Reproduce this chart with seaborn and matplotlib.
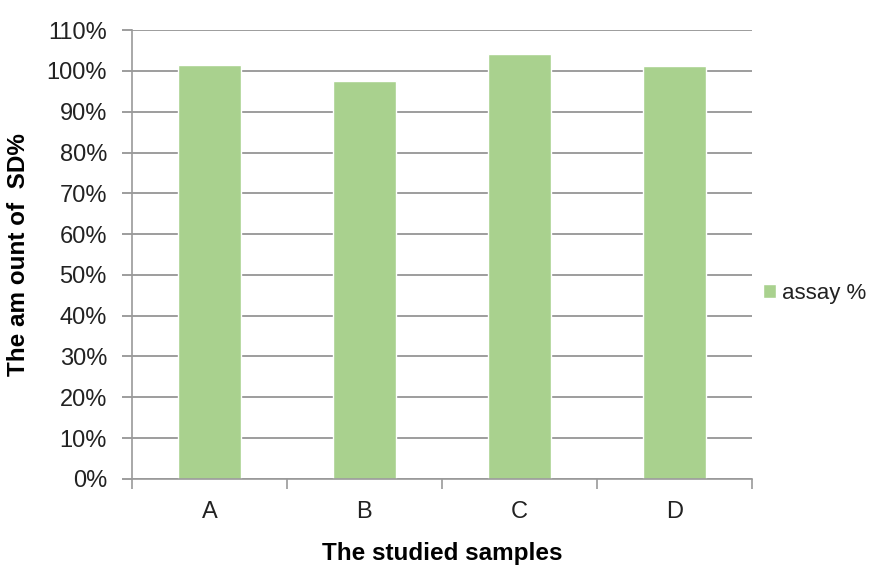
import matplotlib
matplotlib.use("Agg")
import matplotlib.pyplot as plt
import seaborn as sns
import pandas as pd
import numpy as np
from matplotlib.ticker import PercentFormatter, FixedLocator

# Assay results per sample (percent)
samples = ["A", "B", "C", "D"]
assay_pct = [101.5, 97.5, 104.1, 101.2]
series_name = "assay %"

df = pd.DataFrame({"sample": samples, "value": assay_pct, "series": series_name})

sns.set_theme(style="white")
plt.rcParams["font.family"] = ["Liberation Sans", "DejaVu Sans"]

fig = plt.figure(figsize=(8.74, 5.70), dpi=100)
ax = fig.add_axes([0.151, 0.160, 0.709, 0.787])

bar_green = "#a9d18e"
sns.barplot(data=df, x="sample", y="value", hue="series", palette=[bar_green],
            width=0.405, ax=ax, saturation=1, legend=True)

ax.set_ylim(0, 110)
ax.set_xlim(-0.5, 3.5)
ax.set_yticks(np.arange(0, 111, 10))
ax.yaxis.set_major_formatter(PercentFormatter(decimals=0))
ax.yaxis.grid(True, color="#8c8c8c", linewidth=1.2)
ax.set_axisbelow(True)

for side in ("top", "right"):
    ax.spines[side].set_visible(False)
for side in ("left", "bottom"):
    ax.spines[side].set_color("#9a9a9a")
    ax.spines[side].set_linewidth(1.2)

ax.tick_params(axis="y", which="major", left=True, length=7, width=1.2,
               color="#8c8c8c", labelsize=17, labelcolor="#222222", pad=11)
ax.tick_params(axis="x", which="major", bottom=False, labelsize=17,
               labelcolor="#222222", pad=10)
ax.xaxis.set_minor_locator(FixedLocator([-0.5, 0.5, 1.5, 2.5, 3.5]))
ax.tick_params(axis="x", which="minor", bottom=True, length=7, width=1.2,
               color="#9a9a9a")

label_font = dict(family=["Liberation Sans", "DejaVu Sans"],
                  weight="bold", size=17.5, color="black")
ax.set_xlabel("The studied samples", labelpad=14, **label_font)
ax.set_ylabel("The am ount of  SD%", labelpad=12, **label_font)

leg = ax.legend(loc="center left", bbox_to_anchor=(1.0, 0.414), frameon=False,
                handlelength=0.6, handleheight=0.6, handletextpad=0.25,
                fontsize=16, borderaxespad=0.1)
for t in leg.get_texts():
    t.set_color("#222222")

fig.savefig("out.png", dpi=100)
